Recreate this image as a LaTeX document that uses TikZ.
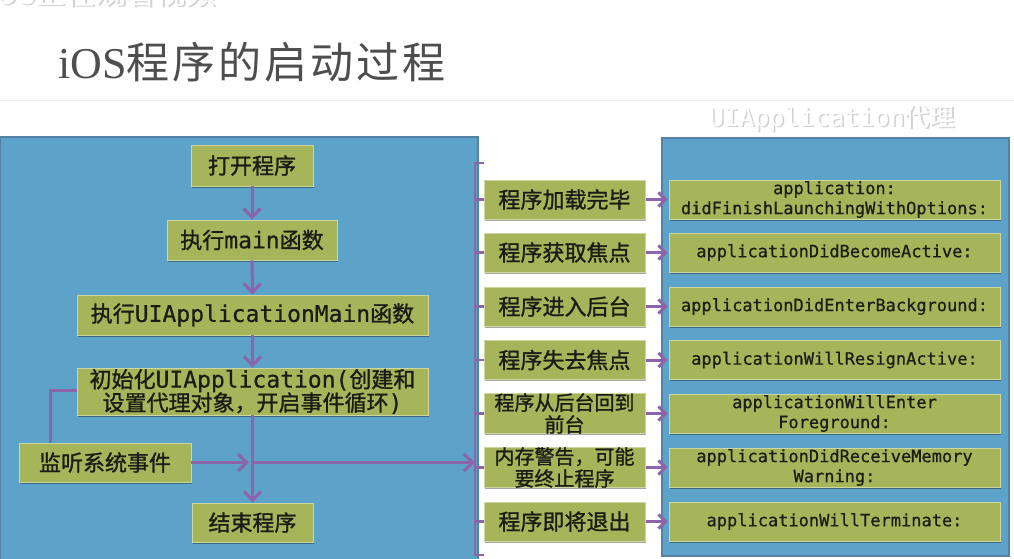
\documentclass[tikz,border=0pt]{standalone}
\usepackage{fontspec}
\setmainfont{Liberation Serif}
\newfontfamily\cjk{Noto Sans CJK SC}
\newfontfamily\cjkb[FakeBold=1.2]{Noto Sans CJK SC}
\newfontfamily\cjkt[LetterSpace=7]{Noto Sans CJK SC}
\newfontfamily\mono{DejaVu Sans Mono}
\newfontfamily\monob[FakeBold=0.6]{DejaVu Sans Mono}
\usetikzlibrary{arrows.meta,shadows}
\definecolor{panelblue}{RGB}{92,162,201}
\definecolor{panelborder}{RGB}{86,128,166}
\definecolor{boxgreen}{RGB}{166,181,89}
\definecolor{boxedge}{RGB}{205,216,160}
\definecolor{arrowpurple}{RGB}{140,100,172}
\definecolor{txt}{RGB}{28,28,22}
\definecolor{titlegray}{RGB}{78,78,78}
\newcommand{\lat}[1]{{\monob\fontsize{23}{24}\selectfont #1}}
\tikzset{
  panel/.style={fill=panelblue, draw=panelborder, line width=1.4pt},
  gbox/.style={fill=boxgreen, draw=boxedge, line width=0.9pt, inner sep=0pt,
    text=txt, align=center,
    drop shadow={shadow xshift=1pt, shadow yshift=-1.5pt, opacity=0.35, fill=black}},
  flowbox/.style={gbox, font=\cjkb\fontsize{22}{22}\selectfont},
  rowL/.style={gbox, minimum width=161pt, minimum height=39pt, font=\cjkb\fontsize{22}{22}\selectfont},
  rowLtwo/.style={gbox, minimum width=161pt, minimum height=39pt, font=\cjkb\fontsize{20}{22}\selectfont},
  rowR/.style={gbox, minimum width=331pt, minimum height=39pt, font=\monob\fontsize{17}{20}\selectfont},
  flowarrow/.style={draw=arrowpurple, line width=3pt, -{Straight Barb[length=9pt,width=17pt]}},
  flowline/.style={draw=arrowpurple, line width=3pt},
  shortarrow/.style={draw=arrowpurple, line width=3pt, -{Straight Barb[length=7pt,width=14pt]}},
  ghost/.style={text=white},
  ghostshadow/.style={text=black!18},
}
\begin{document}
\begin{tikzpicture}[x=1pt,y=-1pt]
\useasboundingbox (0,0) rectangle (1014,558);
\fill[white] (0,0) rectangle (1014,558);
% faint overlay text at the very top (cut by the top edge, as in the reference)
\node[ghostshadow, anchor=base west, font=\cjk\fontsize{30}{30}\selectfont] (wm0) at (-14.5,5.5) {iOS正在观看视频};
\node[ghost, anchor=base west, font=\cjk\fontsize{30}{30}\selectfont] (wm) at (-16,4) {iOS正在观看视频};
% faint separator
\draw[black!6, line width=0.8pt] (0,100) -- (1014,100);
% title
\node[anchor=west, text=titlegray, inner sep=0pt] (title) at (58,62)
  {{\fontsize{44}{48}\selectfont iOS}{\cjkt\fontsize{43}{48}\selectfont 程序的启动过程}};
% panel label
\node[ghostshadow, font=\mono\fontsize{25}{26}\selectfont] (lab0) at (833.5,120)
  {UIApplication{\cjk 代理}};
\node[ghost, font=\mono\fontsize{25}{26}\selectfont] (lab) at (832,118.5)
  {UIApplication{\cjk 代理}};
% panels
\draw[panel] (0,137) rectangle (478,570);
\draw[panel] (662,138) rectangle (1009,556);

% left flow
\node[flowbox, minimum width=122pt, minimum height=41pt] (open) at (252,165.5) {打开程序};
\node[flowbox, minimum width=170pt, minimum height=40pt] (main) at (252,240) {执行\lat{main}函数};
\node[flowbox, minimum width=351pt, minimum height=40pt] (uimain) at (252.5,315) {执行\lat{UIApplicationMain}函数};
\node[flowbox, minimum width=351pt, minimum height=47pt] (init) at (252.5,391.5)
  {初始化\lat{UIApplication(}创建和\\[-1pt]设置代理对象，开启事件循环\lat{)}};
\node[flowbox, minimum width=172pt, minimum height=39pt] (listen) at (105,462.5) {监听系统事件};
\node[flowbox, minimum width=121pt, minimum height=39pt] (end) at (252.5,522.5) {结束程序};

\coordinate (hub) at (253,462.5);
\coordinate (bend) at (50,390);
\coordinate (brtop) at (475,163);
\coordinate (brbot) at (475,555);

\draw[flowarrow] (open) -- (main);
\draw[flowarrow] (main) -- (uimain);
\draw[flowarrow] (uimain) -- (init);
\draw[flowarrow] (init) -- (end);
\draw[flowline] (init.west |- bend) -- (bend) -- (bend |- listen.north);
\draw[flowarrow] (listen.east) -- ([xshift=-4pt]hub);
\draw[flowarrow] (hub) -- (hub -| brtop);

% bracket
\draw[flowline, line width=2.6pt] ([xshift=9pt]brtop) -- (brtop) -- (brbot) -- ([xshift=9pt]brbot);

% rows
\node[rowL] (l1) at (564.5,199.5) {程序加载完毕};
\node[rowL] (l2) at (564.5,252.5) {程序获取焦点};
\node[rowL] (l3) at (564.5,306.5) {程序进入后台};
\node[rowL] (l4) at (564.5,360) {程序失去焦点};
\node[rowLtwo] (l5) at (564.5,413.5) {程序从后台回到\\前台};
\node[rowLtwo] (l6) at (564.5,467.5) {内存警告，可能\\要终止程序};
\node[rowL] (l7) at (564.5,521.5) {程序即将退出};

\node[rowR] (r1) at (834.5,199.5) {application:\\didFinishLaunchingWithOptions:};
\node[rowR] (r2) at (834.5,252.5) {applicationDidBecomeActive:};
\node[rowR] (r3) at (834.5,306.5) {applicationDidEnterBackground:};
\node[rowR] (r4) at (834.5,360) {applicationWillResignActive:};
\node[rowR] (r5) at (834.5,413.5) {applicationWillEnter\\Foreground:};
\node[rowR] (r6) at (834.5,467.5) {applicationDidReceiveMemory\\Warning:};
\node[rowR] (r7) at (834.5,521.5) {applicationWillTerminate:};

\foreach \i in {1,...,7} {
  \draw[flowline, line width=2.6pt] (l\i.west -| brtop) -- (l\i.west);
  \draw[shortarrow] ([xshift=1pt]l\i.east) -- ([xshift=-1pt]r\i.west);
}
\end{tikzpicture}
\end{document}
